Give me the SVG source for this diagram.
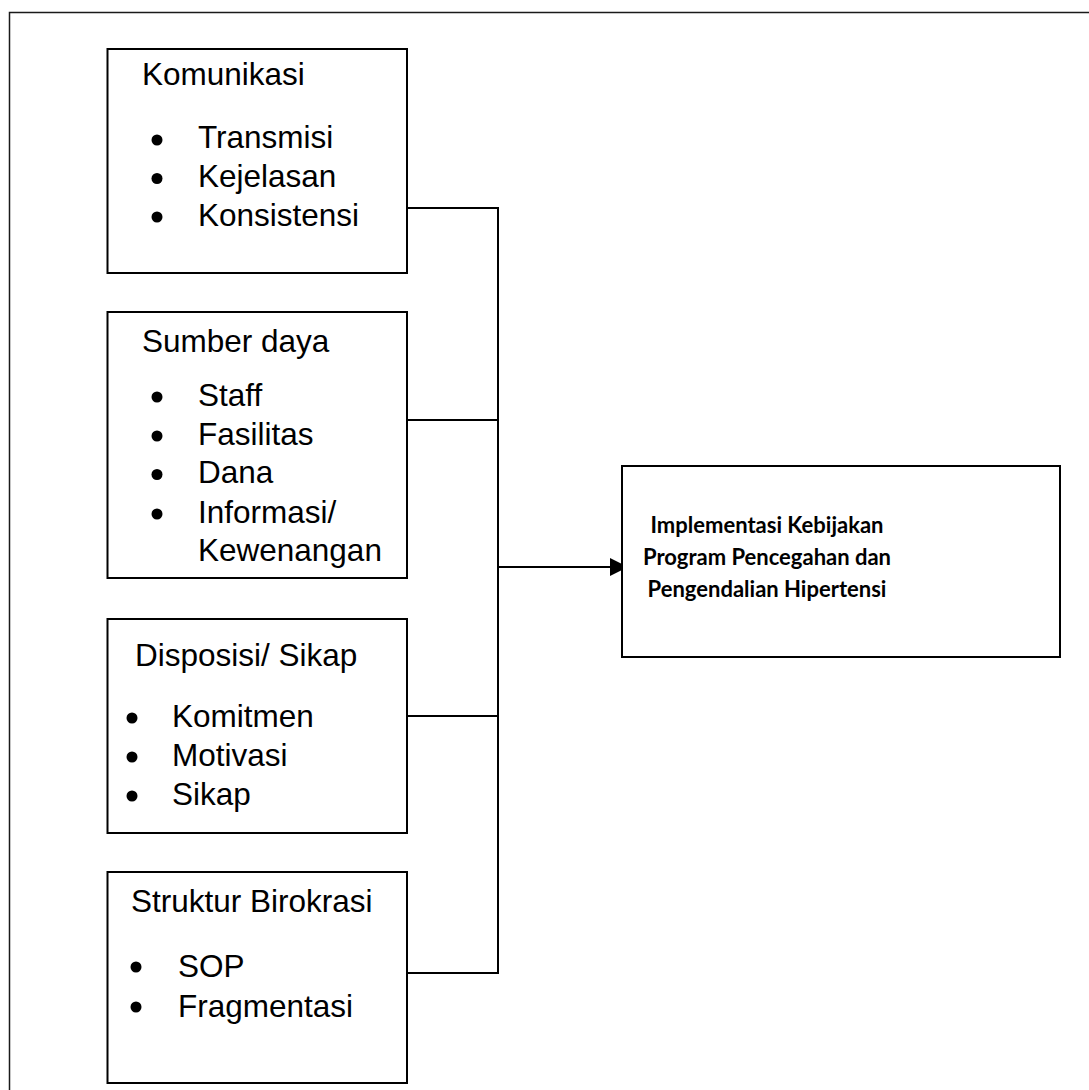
<svg xmlns="http://www.w3.org/2000/svg" width="1089" height="1090" viewBox="0 0 1089 1090">
  <style>
    .frame { fill: none; stroke: #1a1a1a; stroke-width: 1.5; }
    .box { fill: #ffffff; stroke: #000000; stroke-width: 2; }
    .head, .item { font-family: "Liberation Sans", Arial, sans-serif; font-size: 31.5px; fill: #000000; }
    .dot { fill: #000000; }
    .title { font-family: Lato, "Open Sans", sans-serif; font-weight: bold; font-size: 22px; fill: #000000; text-anchor: middle; }
    .wire { fill: none; stroke: #000000; stroke-width: 2; }
  </style>

  <rect x="0" y="0" width="1089" height="1090" fill="#ffffff"/>
  <!-- page frame running off the right and bottom edges -->
  <rect class="frame" x="9.5" y="12.5" width="1200" height="1200"/>

  <!-- connectors -->
  <g id="connectors">
    <path class="wire" d="M407,208 H498 V973 H407"/>
    <path class="wire" d="M407,420 H498"/>
    <path class="wire" d="M407,716 H498"/>
    <path class="wire" d="M498,567 H610"/>
    <path d="M610,558 L628,567 L610,576 Z" fill="#000000"/>
  </g>

  <g id="komunikasi">
    <rect class="box" x="107.5" y="49" width="299.5" height="224"/>
    <text class="head" x="142" y="85">Komunikasi</text>
    <circle class="dot" cx="157" cy="140" r="5.5"/>
    <circle class="dot" cx="157" cy="178.5" r="5.5"/>
    <circle class="dot" cx="157" cy="217" r="5.5"/>
    <text class="item" x="198" y="148">Transmisi</text>
    <text class="item" x="198" y="187">Kejelasan</text>
    <text class="item" x="198" y="226">Konsistensi</text>
  </g>

  <g id="sumber-daya">
    <rect class="box" x="107.5" y="312" width="299.5" height="266"/>
    <text class="head" x="142" y="352">Sumber daya</text>
    <circle class="dot" cx="157" cy="397" r="5.5"/>
    <circle class="dot" cx="157" cy="436" r="5.5"/>
    <circle class="dot" cx="157" cy="474.5" r="5.5"/>
    <circle class="dot" cx="157" cy="514" r="5.5"/>
    <text class="item" x="198" y="406">Staff</text>
    <text class="item" x="198" y="445">Fasilitas</text>
    <text class="item" x="198" y="483">Dana</text>
    <text class="item" x="198" y="523">Informasi/</text>
    <text class="item" x="198" y="561">Kewenangan</text>
  </g>

  <g id="disposisi">
    <rect class="box" x="107.5" y="619" width="299.5" height="214"/>
    <text class="head" x="135" y="666">Disposisi/ Sikap</text>
    <circle class="dot" cx="132" cy="718" r="5.5"/>
    <circle class="dot" cx="132" cy="757" r="5.5"/>
    <circle class="dot" cx="132" cy="796" r="5.5"/>
    <text class="item" x="172" y="727">Komitmen</text>
    <text class="item" x="172" y="766">Motivasi</text>
    <text class="item" x="172" y="805">Sikap</text>
  </g>

  <g id="struktur-birokrasi">
    <rect class="box" x="107.5" y="872" width="299.5" height="211"/>
    <text class="head" x="131" y="912">Struktur Birokrasi</text>
    <circle class="dot" cx="136" cy="967" r="5.5"/>
    <circle class="dot" cx="136" cy="1007" r="5.5"/>
    <text class="item" x="178" y="977">SOP</text>
    <text class="item" x="178" y="1017">Fragmentasi</text>
  </g>

  <g id="implementasi">
    <rect class="box" x="622" y="466" width="438" height="191"/>
    <text class="title" x="767" y="533">Implementasi Kebijakan</text>
    <text class="title" x="767" y="565">Program Pencegahan dan</text>
    <text class="title" x="767" y="597">Pengendalian Hipertensi</text>
  </g>
</svg>
